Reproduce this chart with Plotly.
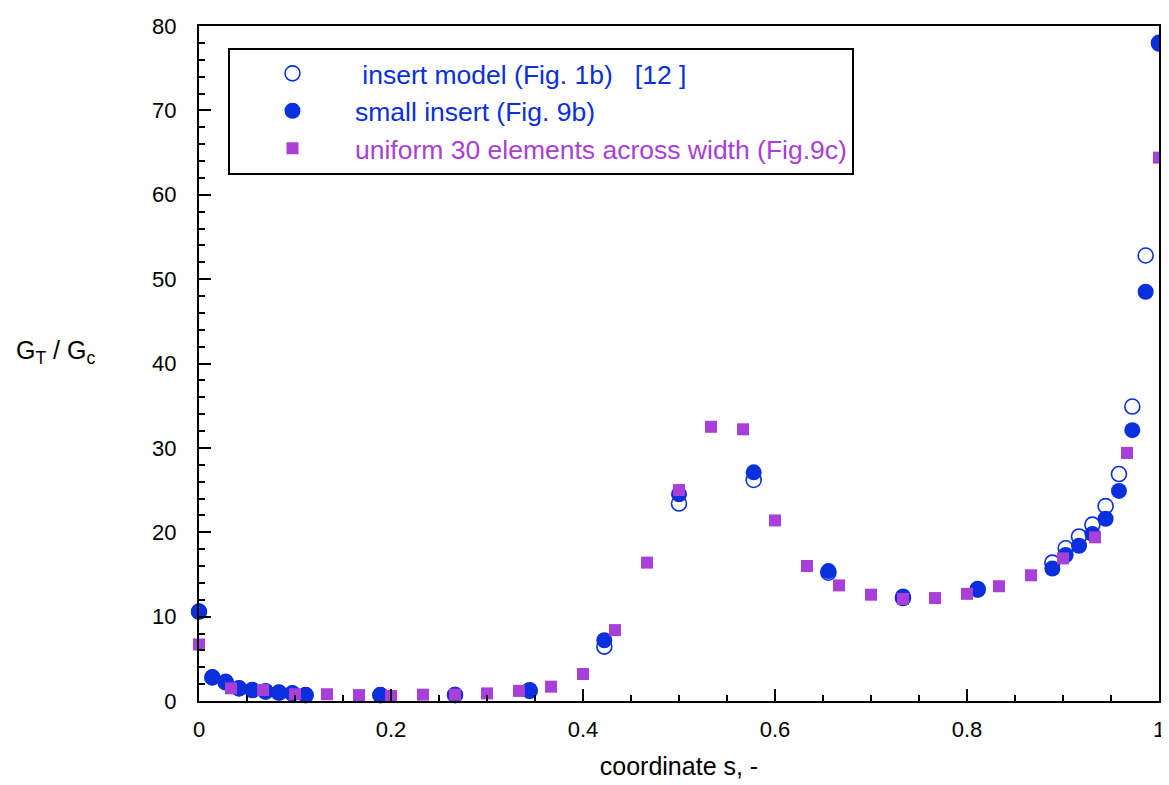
import plotly.graph_objects as go

# ---- data ----
s_insert = [0, 0.0139, 0.0278, 0.0417, 0.0556, 0.0694, 0.0833, 0.0972, 0.1111,
            0.1889, 0.2667, 0.3444, 0.4222, 0.5, 0.5778, 0.6556, 0.7333, 0.8111,
            0.8889, 0.9028, 0.9167, 0.9306, 0.9444, 0.9583, 0.9722, 0.9861, 1.0]
g_model = [10.6, 2.8, 2.2, 1.5, 1.3, 1.1, 1.0, 0.9, 0.7,
           0.7, 0.7, 1.2, 6.45, 23.4, 26.2, 15.2, 12.2, 13.2,
           16.4, 18.1, 19.5, 20.9, 23.1, 26.9, 34.9, 52.8, 78.0]
g_small = [10.6, 2.8, 2.3, 1.5, 1.3, 1.2, 1.0, 0.9, 0.7,
           0.7, 0.75, 1.3, 7.2, 24.5, 27.1, 15.4, 12.4, 13.3,
           15.7, 17.3, 18.4, 19.8, 21.6, 24.9, 32.1, 48.5, 77.9]
s_uniform = [0, 0.0333, 0.0667, 0.1, 0.1333, 0.1667, 0.2, 0.2333, 0.2667, 0.3,
             0.3333, 0.3667, 0.4, 0.4333, 0.4667, 0.5, 0.5333, 0.5667, 0.6, 0.6333,
             0.6667, 0.7, 0.7333, 0.7667, 0.8, 0.8333, 0.8667, 0.9, 0.9333, 0.9667, 1.0]
g_uniform = [6.7, 1.5, 1.3, 0.8, 0.8, 0.7, 0.6, 0.75, 0.75, 0.9,
             1.2, 1.7, 3.2, 8.4, 16.4, 25.0, 32.5, 32.2, 21.4, 16.0,
             13.7, 12.6, 12.1, 12.2, 12.7, 13.6, 14.9, 16.9, 19.4, 29.4, 64.4]

names = ["\u00a0insert model (Fig. 1b)\u00a0\u00a0\u00a0[12 ]",
         "small insert (Fig. 9b)",
         "uniform 30 elements across width (Fig.9c)"]

BLUE = "#0a2fdc"
PURPLE = "#a73fd8"
FONT = "Liberation Sans, Arial, Helvetica, sans-serif"

fig = go.Figure()
fig.add_trace(go.Scatter(
    x=s_insert, y=g_model, mode="markers", cliponaxis=False,
    name=f"<span style='color:{BLUE}'>{names[0]}</span>", legendgroup="a",
    marker=dict(symbol="circle-open", size=15, color=BLUE, line=dict(width=1.6, color=BLUE))))
fig.add_trace(go.Scatter(
    x=s_insert, y=g_small, mode="markers", cliponaxis=False,
    name=f"<span style='color:{BLUE}'>{names[1]}</span>", legendgroup="b",
    marker=dict(symbol="circle", size=16, color=BLUE)))
fig.add_trace(go.Scatter(
    x=s_uniform, y=g_uniform, mode="markers", cliponaxis=False,
    name=f"<span style='color:{PURPLE}'>{names[2]}</span>", legendgroup="c",
    marker=dict(symbol="square", size=12, color=PURPLE)))

fig.update_layout(
    width=1161, height=777,
    margin=dict(l=191, r=10, t=18, b=84, autoexpand=False),
    paper_bgcolor="white", plot_bgcolor="white",
    font=dict(family=FONT, size=22, color="black"),
    showlegend=True,
    legend=dict(x=0.0302, y=0.968, xanchor="left", yanchor="top",
                bordercolor="black", borderwidth=2, bgcolor="white",
                font=dict(size=26.5, family=FONT), tracegroupgap=0,
                itemwidth=115),
    xaxis=dict(range=[0, 1], dtick=0.2, tick0=0, tickformat="~g", automargin=False,
               showgrid=False, zeroline=False,
               showline=True, linecolor="black", linewidth=2, mirror=True,
               ticks="inside", ticklen=12, tickwidth=2, tickcolor="black",
               minor=dict(dtick=0.05, ticks="inside", ticklen=6, tickwidth=2, tickcolor="black"),
               ticklabelstandoff=8, tickfont=dict(size=22),
               title=dict(text="coordinate s, -", standoff=16, font=dict(size=25))),
    yaxis=dict(range=[0, 80], dtick=10, tick0=0, automargin=False,
               showgrid=False, zeroline=False,
               showline=True, linecolor="black", linewidth=2, mirror=True,
               ticks="inside", ticklen=12, tickwidth=2, tickcolor="black",
               minor=dict(dtick=2, ticks="inside", ticklen=6, tickwidth=2, tickcolor="black"),
               ticklabelstandoff=16, tickfont=dict(size=22)),
    annotations=[dict(text="G<sub>T</sub> / G<sub>c</sub>", xref="paper", yref="paper",
                      x=-0.15, y=0.517, xanchor="center", yanchor="middle",
                      showarrow=False, font=dict(size=25, family=FONT))],
)

fig.write_html("out.html")
